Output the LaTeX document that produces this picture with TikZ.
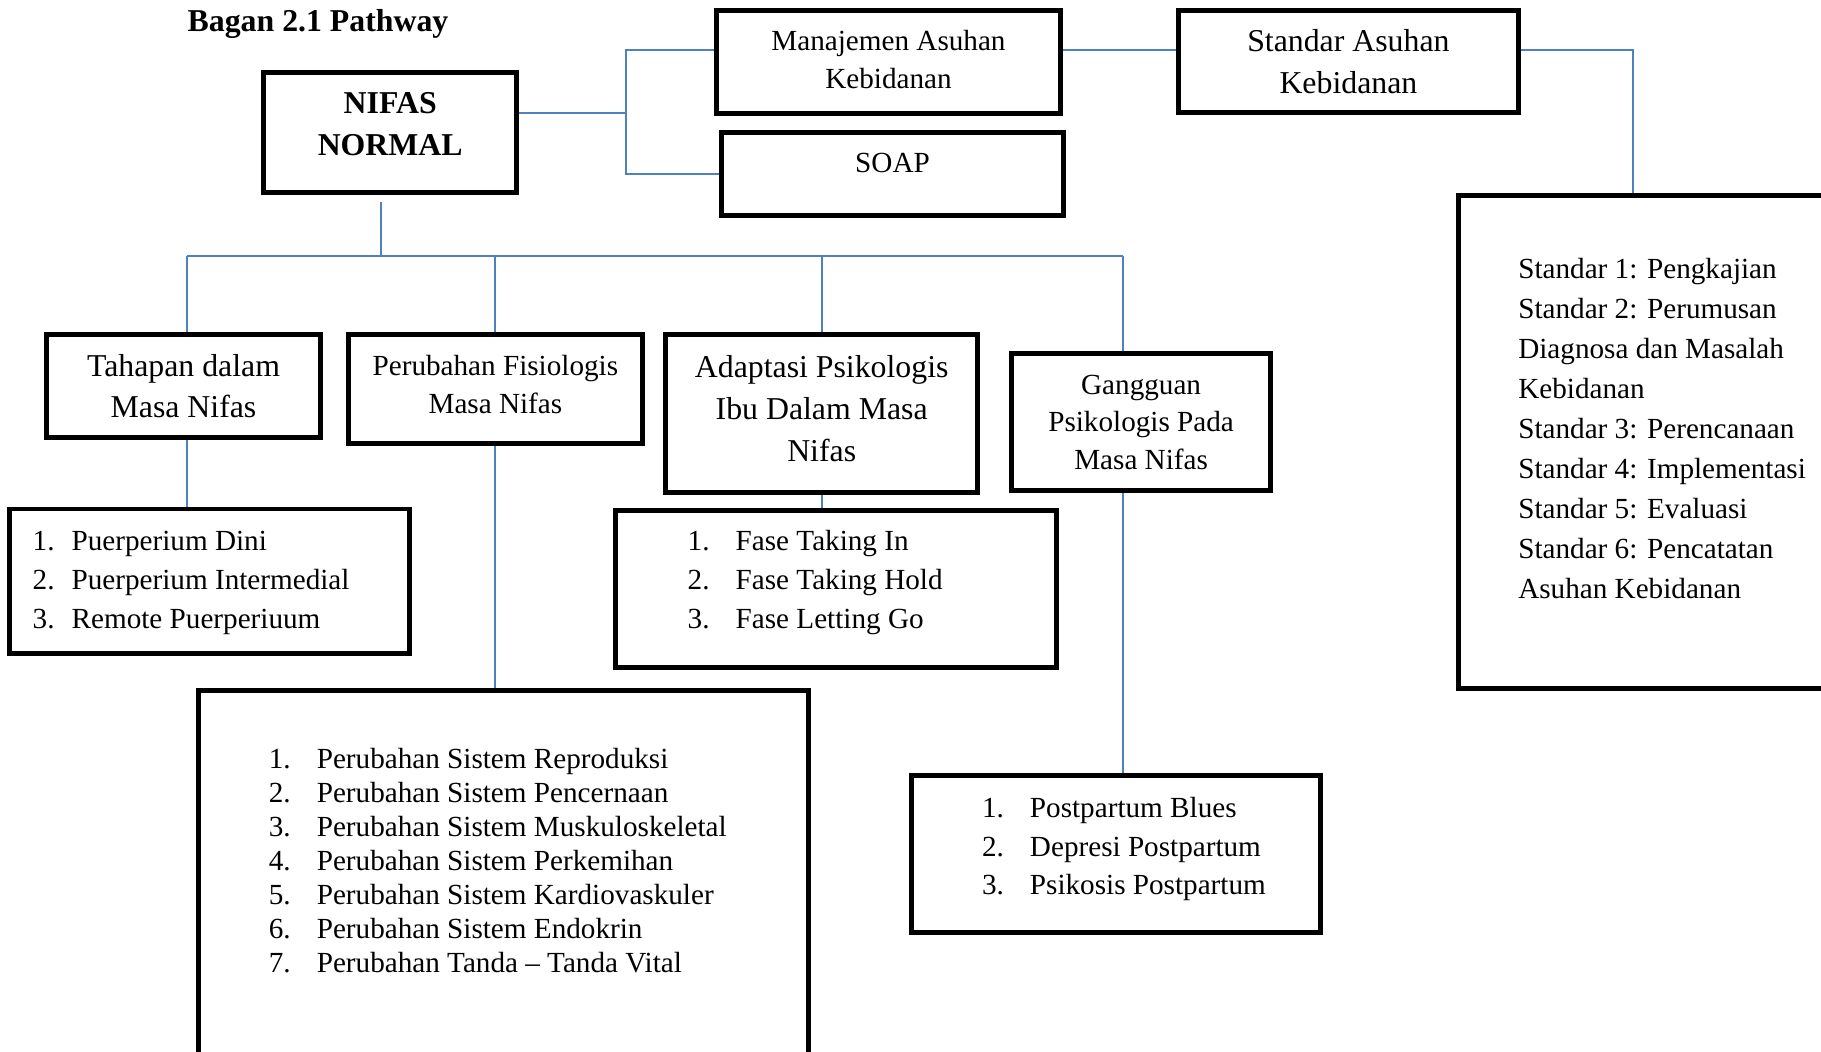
\documentclass[tikz,border=0pt]{standalone}
\usepackage{fontspec}
\setmainfont{Liberation Serif}
\usetikzlibrary{backgrounds}
\definecolor{linkblue}{RGB}{79,129,189}
\newcommand{\butir}[3][0.48cm]{\makebox[#1][l]{#2}#3}
\newcommand{\strutdown}[1]{\rule[-#1]{0pt}{#1}}

\begin{document}
\begin{tikzpicture}[
    pbox/.style={draw, line width=1.4pt, inner sep=1pt, align=center},
    bigfont/.style={font=\fontsize{9.05}{11.9}\selectfont},
    smallfont/.style={font=\fontsize{8.3}{10.7}\selectfont},
    link/.style={draw=linkblue, line width=0.55pt},
    listtxt/.style={inner sep=0pt, align=left, anchor=west}]
    \useasboundingbox (0,0) rectangle (18.21,-10.52);
    \clip (0,0) rectangle (18.21,-10.52);

    % Title
    \node[bigfont, anchor=base west, inner sep=0pt] (title) at (1.87,-0.314) {\textbf{Bagan 2.1 Pathway}};

    % Top row
    \node[pbox, bigfont, minimum width=2.525cm, minimum height=1.205cm] (nifas) at (3.902,-1.324) {\textbf{NIFAS}\\\textbf{NORMAL}\strutdown{0.16cm}};
    \node[pbox, smallfont, minimum width=3.435cm, minimum height=1.025cm] (manaj) at (8.885,-0.621) {Manajemen Asuhan\\Kebidanan\strutdown{0.05cm}};
    \node[pbox, smallfont, minimum width=3.425cm, minimum height=0.835cm, text depth=0.23cm] (soap) at (8.925,-1.742) {SOAP};
    \node[pbox, bigfont, minimum width=3.405cm, minimum height=1.015cm] (standar) at (13.484,-0.616) {Standar Asuhan\\Kebidanan};
    \node[pbox, minimum width=4.405cm, minimum height=4.935cm] (stdlist) at (16.79,-4.419) {};
    \node[listtxt, font=\fontsize{8.3}{11.4}\selectfont] (stdtxt) at ([xshift=0.613cm, yshift=0.133cm]stdlist.west) {Standar 1: Pengkajian\\Standar 2: Perumusan\\Diagnosa dan Masalah\\Kebidanan\\Standar 3: Perencanaan\\Standar 4: Implementasi\\Standar 5: Evaluasi\\Standar 6: Pencatatan\\Asuhan Kebidanan};

    % Second row
    \node[pbox, bigfont, minimum width=2.735cm, minimum height=1.025cm] (tahapan) at (1.835,-3.862) {Tahapan dalam\\Masa Nifas};
    \node[pbox, smallfont, minimum width=2.935cm, minimum height=1.085cm] (fisio) at (4.954,-3.891) {Perubahan Fisiologis\\Masa Nifas\strutdown{0.10cm}};
    \node[pbox, bigfont, minimum width=3.115cm, minimum height=1.575cm] (adapt) at (8.217,-4.135) {Adaptasi Psikologis\\Ibu Dalam Masa\\Nifas\strutdown{0.10cm}};
    \node[pbox, smallfont, minimum width=2.585cm, minimum height=1.375cm] (ganggu) at (11.411,-4.222) {Gangguan\\Psikologis Pada\\Masa Nifas};

    % Lists
    \node[pbox, minimum width=4.005cm, minimum height=1.445cm] (tahlist) at (2.097,-5.813) {};
    \node[listtxt, font=\fontsize{8.3}{11.1}\selectfont] (tahtxt) at ([xshift=0.25cm, yshift=-0.012cm]tahlist.west) {\butir[0.39cm]{1.}{Puerperium Dini}\\\butir[0.39cm]{2.}{Puerperium Intermedial}\\\butir[0.39cm]{3.}{Remote Puerperiuum}};
    \node[pbox, minimum width=4.405cm, minimum height=1.575cm] (faselist) at (8.362,-5.889) {};
    \node[listtxt, font=\fontsize{8.3}{11.1}\selectfont] (fasetxt) at ([xshift=0.735cm, yshift=0.064cm]faselist.west) {\butir{1.}{Fase Taking In}\\\butir{2.}{Fase Taking Hold}\\\butir{3.}{Fase Letting Go}};
    \node[pbox, minimum width=6.095cm, minimum height=4.27cm] (sistlist) at (5.035,-9.04) {};
    \node[listtxt, font=\fontsize{8.3}{9.7}\selectfont] (sisttxt) at ([xshift=0.718cm, yshift=0.436cm]sistlist.west) {\butir{1.}{Perubahan Sistem Reproduksi}\\\butir{2.}{Perubahan Sistem Pencernaan}\\\butir{3.}{Perubahan Sistem Muskuloskeletal}\\\butir{4.}{Perubahan Sistem Perkemihan}\\\butir{5.}{Perubahan Sistem Kardiovaskuler}\\\butir{6.}{Perubahan Sistem Endokrin}\\\butir{7.}{Perubahan Tanda -- Tanda Vital}};
    \node[pbox, minimum width=4.085cm, minimum height=1.565cm] (postlist) at (11.161,-8.542) {};
    \node[listtxt, font=\fontsize{8.3}{10.9}\selectfont] (posttxt) at ([xshift=0.719cm, yshift=0.052cm]postlist.west) {\butir{1.}{Postpartum Blues}\\\butir{2.}{Depresi Postpartum}\\\butir{3.}{Psikosis Postpartum}};

    % Connectors
    \coordinate (tA) at (6.26,-0.50);
    \coordinate (tM) at (6.26,-1.127);
    \coordinate (tS) at (16.33,-0.50);
    \coordinate (busL) at (1.87,-2.557);
    \coordinate (busR) at (11.23,-2.557);
    \coordinate (busT) at (3.81,-2.557);
    \begin{scope}[on background layer]
        \draw[link] (nifas.east |- tM) -- (tM);
        \draw[link] (manaj.west |- tA) -- (tA) |- (soap.west);
        \draw[link] (manaj.east |- tA) -- (standar.west |- tA);
        \draw[link] (standar.east |- tS) -- (tS) -- (tS |- stdlist.north);
        \draw[link] (busT |- nifas.south) ++(0,-0.07) -- (busT);
        \draw[link] (busL) -- (busR);
        \draw[link] (busL) -- (busL |- tahapan.north);
        \draw[link] (fisio.north |- busL) -- (fisio.north);
        \draw[link] (adapt.north |- busL) -- (adapt.north);
        \draw[link] (busR) -- (busR |- ganggu.north);
        \draw[link] (busL |- tahapan.south) -- (busL |- tahlist.north);
        \draw[link] (fisio.south) -- (fisio.south |- sistlist.north);
        \draw[link] (adapt.south) -- (adapt.south |- faselist.north);
        \draw[link] (busR |- ganggu.south) -- (busR |- postlist.north);
    \end{scope}
\end{tikzpicture}
\end{document}
